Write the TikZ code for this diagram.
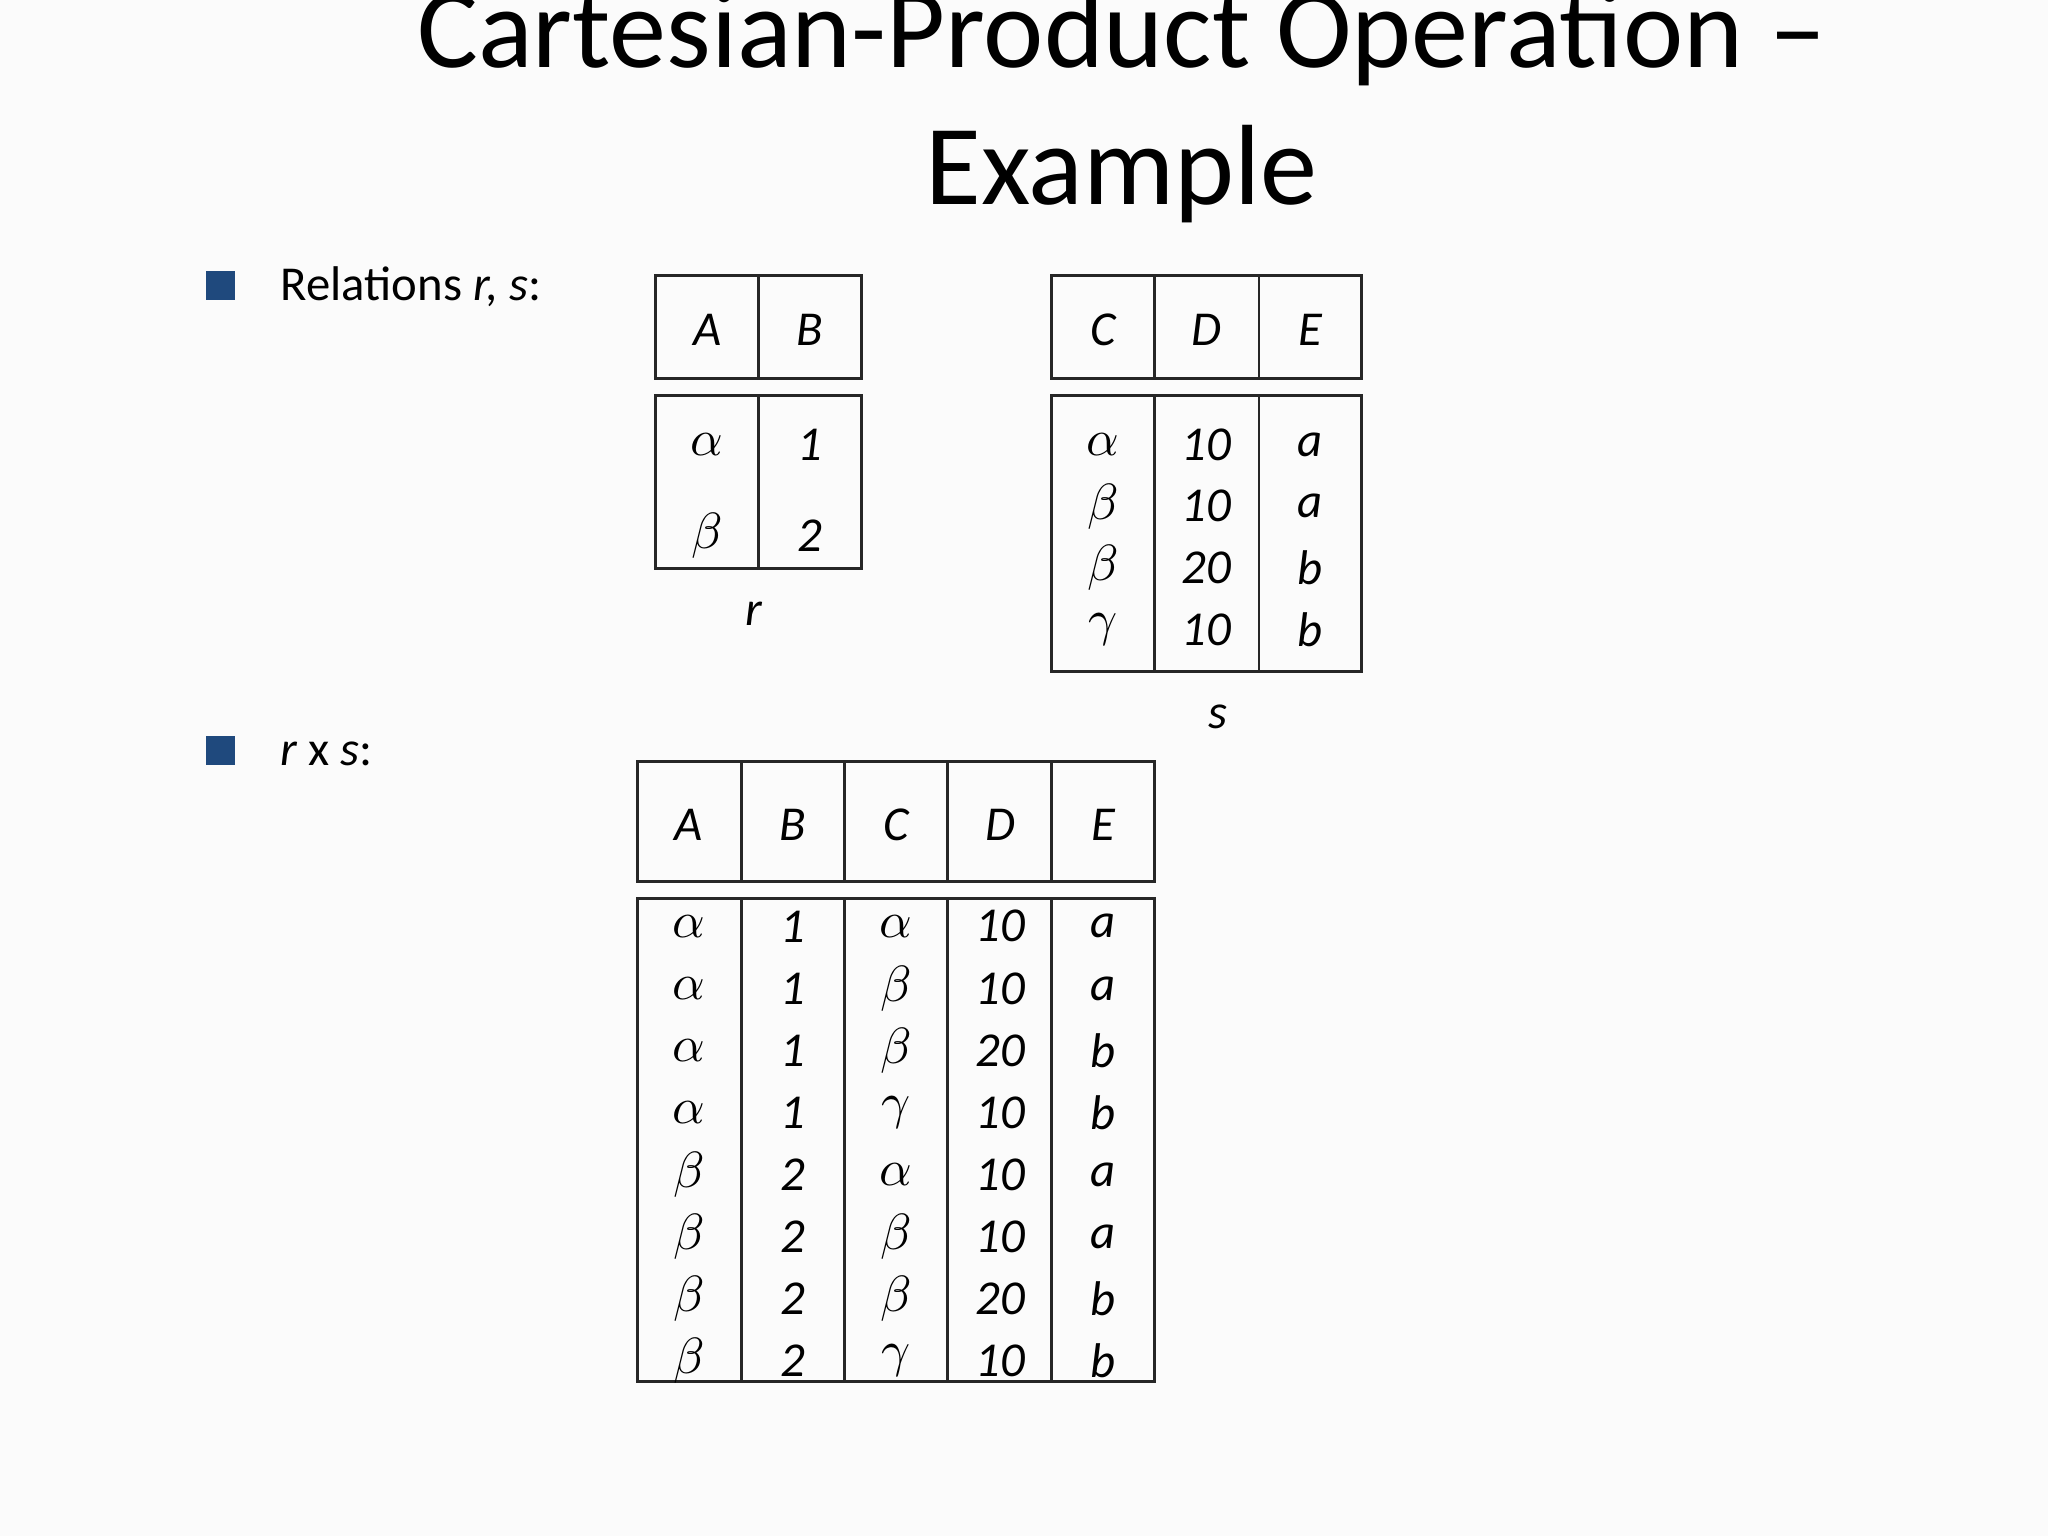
\documentclass[tikz,border=0pt]{standalone}
\usepackage{fontspec}
\setmainfont{Carlito}
\begin{document}
\begin{tikzpicture}[x=0.01cm,y=-0.01cm,
  cell/.style={font=\fontsize{10.5}{12}\selectfont\itshape, inner sep=0pt},
  tbox/.style={draw=black!85, line width=0.6pt, fill=white!97!gray},
  txt/.style={font=\fontsize{10.5}{12}\selectfont, anchor=west, inner sep=0pt}]
\definecolor{bulc}{HTML}{1F497D}
\fill[white!97!gray] (0,0) rectangle (1552,1164);
\useasboundingbox (0,0) rectangle (1552,1164);
\node[font=\fontsize{24.6}{28}\selectfont] (t1) at (850,28) {Cartesian-Product Operation --};
\node[font=\fontsize{24.6}{28}\selectfont] (t2) at (850,132) {Example};
\node[fill=bulc, minimum size=0.22cm, inner sep=0pt] (b1) at (167,216) {};
\node[fill=bulc, minimum size=0.22cm, inner sep=0pt] (b2) at (167,569) {};
\node[txt] (l1) at (212,217) {Relations \textit{r, s}:};
\node[txt] (l2) at (212,571) {\textit{r} x \textit{s}:};
% table r
\draw[tbox] (497,209) rectangle (653,287); \draw[black!85,line width=0.6pt] (575,209)--(575,287);
\draw[tbox] (497,300) rectangle (653,431); \draw[black!85,line width=0.6pt] (575,300)--(575,431);
\node[cell] (rA) at (536,250) {A}; \node[cell] (rB) at (614,250) {B};
\node[cell] (r11) at (536,337) {$\alpha$}; \node[cell] (r12) at (614,337) {1};
\node[cell] (r21) at (536,406) {$\beta$}; \node[cell] (r22) at (614,406) {2};
\node[cell] (rl) at (571,465) {r};
% table s
\draw[tbox] (797,209) rectangle (1032,287);
\draw[tbox] (797,300) rectangle (1032,509);
\foreach \x in {875,954}{\draw[black!85,line width=0.6pt] (\x,209)--(\x,287) (\x,300)--(\x,509);}
\node[cell] (sC) at (836,250) {C}; \node[cell] (sD) at (914,250) {D}; \node[cell] (sE) at (993,250) {E};
\foreach \g/\d/\e [count=\i] in {\alpha/10/a,\beta/10/a,\beta/20/b,\gamma/10/b}{
  \node[cell] (s\i a) at (836,{337+46.7*(\i-1)}) {$\g$};
  \node[cell] (s\i b) at (914,{337+46.7*(\i-1)}) {\d};
  \node[cell] (s\i c) at (993,{337+46.7*(\i-1)}) {\e};}
\node[cell] (sl) at (923,543) {s};
% table r x s
\draw[tbox] (483,577) rectangle (875,668);
\draw[tbox] (483,681) rectangle (875,1047);
\foreach \x in {562,640,718,797}{\draw[black!85,line width=0.6pt] (\x,577)--(\x,668) (\x,681)--(\x,1047);}
\foreach \h/\x in {A/522,B/601,C/679,D/758,E/836}{\node[cell] (p\h) at (\x,625) {\h};}
\foreach \a/\b/\g/\d/\e [count=\i] in {\alpha/1/\alpha/10/a,\alpha/1/\beta/10/a,\alpha/1/\beta/20/b,\alpha/1/\gamma/10/b,\beta/2/\alpha/10/a,\beta/2/\beta/10/a,\beta/2/\beta/20/b,\beta/2/\gamma/10/b}{
  \node[cell] (p\i a) at (522,{702+47*(\i-1)}) {$\a$};
  \node[cell] (p\i b) at (601,{702+47*(\i-1)}) {\b};
  \node[cell] (p\i c) at (679,{702+47*(\i-1)}) {$\g$};
  \node[cell] (p\i d) at (758,{702+47*(\i-1)}) {\d};
  \node[cell] (p\i e) at (836,{702+47*(\i-1)}) {\e};}
\end{tikzpicture}
\end{document}
